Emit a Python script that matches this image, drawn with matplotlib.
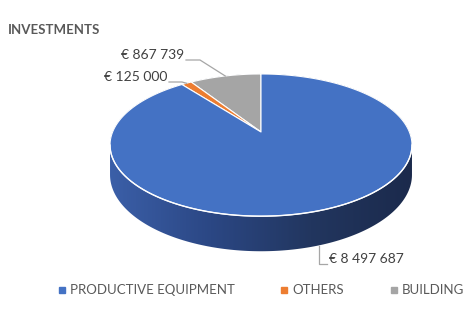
import numpy as np
import matplotlib.pyplot as plt
from matplotlib.colors import LinearSegmentedColormap
from matplotlib.patches import Polygon

categories = ["PRODUCTIVE EQUIPMENT", "OTHERS", "BUILDING"]
values = [8497687, 125000, 867739]
colors = ["#4472C4", "#ED7D31", "#A5A5A5"]

plt.rcParams["font.family"] = ["Lato", "DejaVu Sans"]

# pie geometry (pixel space), simple perspective tilt
CX, CY = 261, 132
R, K, P = 148.4, 68.7, 0.184
DEPTH = 28.6


def top_pt(t):
    t = np.radians(t)
    u, v = np.cos(t), np.sin(t)
    s = 1 + P * v
    return CX + R * u / s, CY - K * v / s


def bottom_pt(t):
    x, y = top_pt(t)
    v = np.sin(np.radians(t))
    return x, y + DEPTH / (1 + P * v)


def arc(fn, t0, t1, n=200):
    ts = np.linspace(t0, t1, n)
    xs, ys = fn(ts)
    return np.column_stack([xs, ys])


fig = plt.figure(figsize=(4.7, 3.25), dpi=100)
ax = fig.add_axes([0, 0, 1, 1])

# wedges go counter-clockwise from 12 o'clock: BUILDING, OTHERS, then EQUIPMENT
order = [2, 1, 0]
total = sum(values)
angles = {}
start = 90.0
for i in order:
    span = 360.0 * values[i] / total
    angles[i] = (start, start + span)
    start += span

# cylinder side, shaded left-to-right
t_l = 180 + np.degrees(np.arcsin(P))
t_r = 360 - np.degrees(np.arcsin(P))
side = np.vstack([arc(top_pt, t_l, t_r - 360), arc(bottom_pt, t_r - 360, t_l - 360)])
side_patch = Polygon(side, closed=True, facecolor="none", edgecolor="none")
ax.add_patch(side_patch)
side_cmap = LinearSegmentedColormap.from_list(
    "side", ["#3b5fa8", "#2b4784", "#22365f", "#1b2a4c"])
grad = np.linspace(0, 1, 256).reshape(1, -1)
im = ax.imshow(grad, cmap=side_cmap, aspect="auto",
               extent=(side[:, 0].min(), side[:, 0].max(),
                       side[:, 1].max() + 1, side[:, 1].min()))
im.set_clip_path(side_patch)

# top faces
for i in order:
    a0, a1 = angles[i]
    pts = np.vstack([[CX, CY], arc(top_pt, a0, a1)])
    ax.add_patch(Polygon(pts, closed=True, facecolor=colors[i],
                         edgecolor="white", linewidth=0.8, joinstyle="round"))

# light rim along the front edge of the top face
rim = arc(top_pt, t_l, t_r)
ax.plot(rim[:, 0], rim[:, 1], color="white", lw=1.0)


def fmt(v):
    return "€ " + f"{v:,}".replace(",", " ")


label_kw = dict(color="#404040", fontsize=10, va="center")
line_kw = dict(color="#A6A6A6", lw=0.9)

# BUILDING label
mx, my = top_pt(np.mean(angles[2]))
ax.plot([mx, 200, 186], [my, 60, 60], **line_kw)
ax.text(184, 55, fmt(values[2]), ha="right", **label_kw)

# OTHERS label
mx, my = top_pt(np.mean(angles[1]))
ax.plot([mx, 182, 169], [my, 82, 82], **line_kw)
ax.text(167, 77, fmt(values[1]), ha="right", **label_kw)

# PRODUCTIVE EQUIPMENT label
mx, my = bottom_pt(np.mean(angles[0]))
ax.plot([mx, mx, mx + 8], [my + 1, 264, 264], **line_kw)
ax.text(329, 259, fmt(values[0]), ha="left", **label_kw)

ax.text(8, 30, "INVESTMENTS", color="#595959", fontsize=9.5,
        fontweight="bold", va="center")

# legend row
legend_x = [62, 284, 394]
for x, name, c in zip(legend_x, categories, colors):
    ax.plot(x, 290, marker="s", markersize=3.8, color=c, linestyle="none")
    ax.text(x + 8, 290, name, color="#595959", fontsize=9.5, va="center")

ax.set_xlim(0, 470)
ax.set_ylim(325, 0)
ax.axis("off")

fig.savefig("out.png", dpi=100)
